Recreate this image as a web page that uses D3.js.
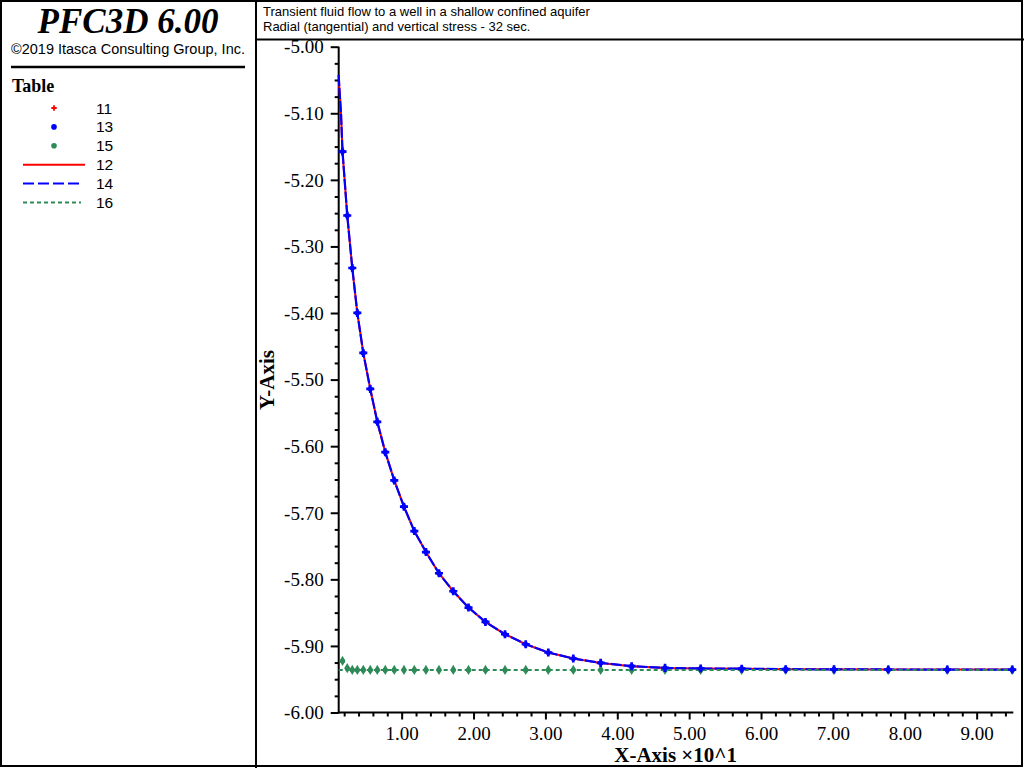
<!DOCTYPE html>
<html>
<head>
<meta charset="utf-8">
<script src="https://cdn.jsdelivr.net/npm/d3@7"></script>
<style>
  body { margin: 0; background: #fff; }
  svg { display: block; }
  .sans { font-family: "Liberation Sans", Arial, sans-serif; }
  .serif { font-family: "Liberation Serif", "Times New Roman", serif; }
</style>
</head>
<body>
<svg id="chart" width="1024" height="768"></svg>
<script>
"use strict";

// radial positions of the table points (m), axis shows them x 10^-1
const pointX = [1.77, 2.43, 3.13, 3.83, 4.66, 5.63, 6.61, 7.72, 8.97, 10.32,
  11.76, 13.38, 15.19, 17.18, 19.30, 21.66, 24.38, 27.26, 30.40, 33.88,
  37.69, 42.00, 46.64, 51.60, 57.31, 63.43, 70.15, 77.70, 85.91, 94.95]

// table 11 : red crosses
const table11 = [-5.1575, -5.2535, -5.3324, -5.3999, -5.4599, -5.5139, -5.5634, -5.6090, -5.6514, -5.6909,
  -5.7275, -5.7590, -5.7909, -5.8179, -5.8424, -5.8640, -5.8825, -5.8975, -5.9099, -5.9189,
  -5.9255, -5.9304, -5.9330, -5.9339, -5.9342, -5.9349, -5.9352, -5.9354, -5.9355, -5.9355]

// table 13 : blue markers
const table13 = [-5.1575, -5.2535, -5.3324, -5.3999, -5.4599, -5.5139, -5.5634, -5.6090, -5.6514, -5.6909,
  -5.7275, -5.7590, -5.7909, -5.8179, -5.8424, -5.8640, -5.8825, -5.8975, -5.9099, -5.9189,
  -5.9255, -5.9304, -5.9330, -5.9339, -5.9342, -5.9349, -5.9352, -5.9354, -5.9355, -5.9355]

// table 15 : green markers
const table15 = [-5.9225, -5.9334, -5.9360, -5.9360, -5.9360, -5.9360, -5.9360, -5.9360, -5.9360, -5.9360,
  -5.9360, -5.9360, -5.9360, -5.9360, -5.9360, -5.9360, -5.9360, -5.9360, -5.9360, -5.9360,
  -5.9360, -5.9360, -5.9360, -5.9360, -5.9360, -5.9360, -5.9360, -5.9360, -5.9360, -5.9360]

// tables 12 and 14 : continuous curves
const lineX = [1.24, 1.32, 1.56].concat(pointX)
const table12 = [-5.0425, -5.0600, -5.0999].concat(table11)
const table14 = [-5.0425, -5.0600, -5.0999].concat(table13)

// table 16 : flat curve
const line16X = [1.24, 95.0]
const table16 = [-5.9360, -5.9360]

const xMajor = [10, 20, 30, 40, 50, 60, 70, 80, 90]
const yMajor = [-6.0, -5.9, -5.8, -5.7, -5.6, -5.5, -5.4, -5.3, -5.2, -5.1, -5.0]

const legendItems = [
  { name: "11", kind: "plus", color: "#ff0000" },
  { name: "13", kind: "blue", color: "#0000ff" },
  { name: "15", kind: "dot", color: "#2e8b57" },
  { name: "12", kind: "line", color: "#ff0000", dash: null },
  { name: "14", kind: "line", color: "#0000ff", dash: "11,4" },
  { name: "16", kind: "line", color: "#2e8b57", dash: "4,3" }
]

const svg = d3.select("#chart")
const fmt = d => d3.format(".2f")(d).replace("\u2212", "-")

// frames
svg.append("rect").attr("x", 1).attr("y", 1).attr("width", 1021).attr("height", 765)
  .attr("fill", "none").attr("stroke", "#000").attr("stroke-width", 2)
svg.append("line").attr("x1", 256).attr("x2", 256).attr("y1", 0).attr("y2", 768)
  .attr("stroke", "#000").attr("stroke-width", 2)
svg.append("line").attr("x1", 256).attr("x2", 1024).attr("y1", 39.5).attr("y2", 39.5)
  .attr("stroke", "#000").attr("stroke-width", 2)

// left panel
svg.append("text").attr("class", "serif").attr("x", 128).attr("y", 33)
  .attr("text-anchor", "middle").attr("font-size", 35).attr("font-weight", "bold")
  .attr("font-style", "italic").text("PFC3D 6.00")
svg.append("text").attr("class", "sans").attr("x", 128).attr("y", 54)
  .attr("text-anchor", "middle").attr("font-size", 14.5).text("©2019 Itasca Consulting Group, Inc.")
svg.append("line").attr("x1", 11).attr("x2", 245).attr("y1", 67).attr("y2", 67)
  .attr("stroke", "#000").attr("stroke-width", 2.3)
svg.append("text").attr("class", "serif").attr("x", 12).attr("y", 92)
  .attr("font-size", 18).attr("font-weight", "bold").text("Table")

// title box
svg.append("text").attr("class", "sans").attr("x", 263).attr("y", 16)
  .attr("font-size", 13).text("Transient fluid flow to a well in a shallow confined aquifer")
svg.append("text").attr("class", "sans").attr("x", 263).attr("y", 31)
  .attr("font-size", 13).text("Radial (tangential) and vertical stress - 32 sec.")

// scales
const x = d3.scaleLinear().domain([1.24, 95.0]).range([338.7, 1012.6])
const y = d3.scaleLinear().domain([-6.0, -5.0]).range([712.5, 46.7])

function marker(g, kind, color) {
  if (kind === "plus") {
    g.append("path").attr("d", d3.symbol(d3.symbolCross, 16)())
      .attr("fill", color)
  } else if (kind === "blue") {
    g.append("path").attr("d", d3.symbol(d3.symbolCross, 36)())
      .attr("fill", color)
    g.append("circle").attr("r", 2.6).attr("fill", color)
  } else {
    g.append("path").attr("d", d3.symbol(d3.symbolDiamond, 30)())
      .attr("fill", color)
    g.append("circle").attr("r", 2.5).attr("fill", color)
  }
}

// legend
legendItems.forEach((item, i) => {
  const cy = 108 + i * 18.9
  if (item.kind === "line") {
    svg.append("line").attr("x1", 23).attr("x2", item.dash ? 81 : 85)
      .attr("y1", cy).attr("y2", cy)
      .attr("stroke", item.color).attr("stroke-width", 2)
      .attr("stroke-dasharray", item.dash)
  } else {
    const g = svg.append("g").attr("transform", `translate(54,${cy})`)
    if (item.kind === "plus") {
      marker(g, item.kind, item.color)
    } else {
      g.append("circle").attr("r", 2.8).attr("fill", item.color)
    }
  }
  svg.append("text").attr("class", "sans").attr("x", 96).attr("y", cy + 5.5)
    .attr("font-size", 15.5).text(item.name)
})

// axes
const xAxis = d3.axisBottom(x).tickValues(xMajor).tickSize(7)
  .tickFormat(d => fmt(d / 10))
const xMinor = d3.axisBottom(x).tickValues(d3.range(2, 95, 2).filter(d => d % 10 !== 0))
  .tickSize(4).tickFormat("")
const yAxis = d3.axisLeft(y).tickValues(yMajor).tickSize(8).tickFormat(fmt)
const yMinor = d3.axisLeft(y).tickValues(d3.range(-5.975, -5.0, 0.025)
  .filter((d, i) => (i + 1) % 4 !== 0)).tickSize(4).tickFormat("")

function styleAxis(g) {
  g.select(".domain").remove()
  g.selectAll(".tick line").attr("stroke", "#000").attr("stroke-width", 2)
  g.selectAll(".tick text").attr("class", "serif").attr("font-size", 19).attr("fill", "#000")
}

svg.append("g").attr("transform", "translate(0,712.5)").call(xAxis).call(styleAxis)
  .selectAll(".tick text").attr("dy", 0).attr("y", 27.5)
svg.append("g").attr("transform", "translate(0,712.5)").call(xMinor).call(styleAxis)
svg.append("g").attr("transform", "translate(338.7,0)").call(yAxis).call(styleAxis)
  .selectAll(".tick text").attr("x", -15).attr("dy", "0.33em")
svg.append("g").attr("transform", "translate(338.7,0)").call(yMinor).call(styleAxis)

svg.append("line").attr("x1", 338.7).attr("x2", 1013.3).attr("y1", 712.5).attr("y2", 712.5)
  .attr("stroke", "#000").attr("stroke-width", 2)
svg.append("line").attr("x1", 338.7).attr("x2", 338.7).attr("y1", 46.7).attr("y2", 713.5)
  .attr("stroke", "#000").attr("stroke-width", 2)

svg.append("text").attr("class", "serif").attr("x", 675.6).attr("y", 761.5)
  .attr("text-anchor", "middle").attr("font-size", 21).attr("font-weight", "bold")
  .text("X-Axis ×10^1")
svg.append("text").attr("class", "serif")
  .attr("transform", "translate(274,380) rotate(-90)")
  .attr("text-anchor", "middle").attr("font-size", 21).attr("font-weight", "bold")
  .text("Y-Axis")

// curves
const line = d3.line().x(d => x(d[0])).y(d => y(d[1]))
const plot = svg.append("g")
plot.append("path").datum(d3.zip(lineX, table12)).attr("d", line)
  .attr("fill", "none").attr("stroke", "#ff0000").attr("stroke-width", 2)
plot.append("path").datum(d3.zip(lineX, table14)).attr("d", line)
  .attr("fill", "none").attr("stroke", "#0000ff").attr("stroke-width", 2.2)
  .attr("stroke-dasharray", "11,2")
plot.append("path").datum(d3.zip(line16X, table16)).attr("d", line)
  .attr("fill", "none").attr("stroke", "#2e8b57").attr("stroke-width", 2)
  .attr("stroke-dasharray", "4,3")

// point tables
const pointSets = [
  { values: table15, kind: "dot", color: "#2e8b57" },
  { values: table11, kind: "plus", color: "#ff0000" },
  { values: table13, kind: "blue", color: "#0000ff" }
]
pointSets.forEach(set => {
  plot.selectAll(null)
    .data(d3.zip(pointX, set.values))
    .enter()
    .append("g")
    .attr("transform", d => `translate(${x(d[0])},${y(d[1])})`)
    .each(function() { marker(d3.select(this), set.kind, set.color) })
})
</script>
</body>
</html>
